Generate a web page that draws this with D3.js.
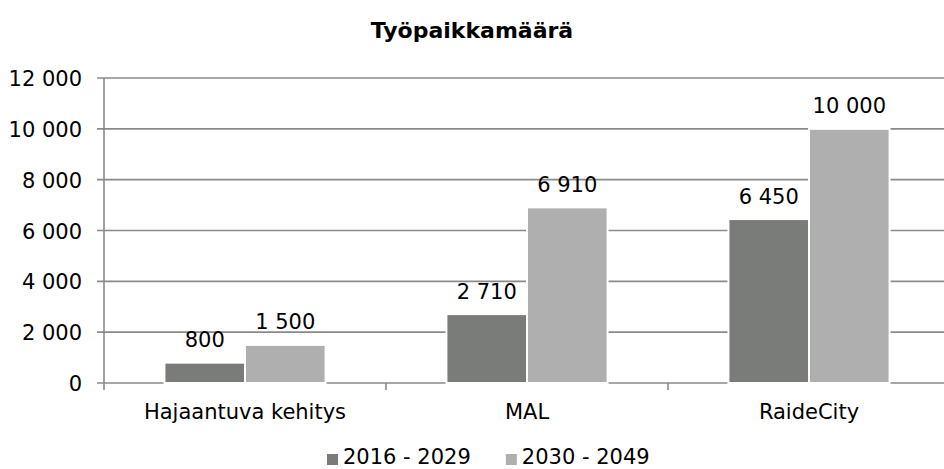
<!DOCTYPE html>
<html>
<head>
<meta charset="utf-8">
<script src="https://cdn.jsdelivr.net/npm/d3@7"></script>
<style>
  body { margin: 0; background: #fff; }
  svg { display: block; font-family: "DejaVu Sans", Verdana, sans-serif; }
</style>
</head>
<body>
<svg></svg>
<script>
const categories = ["Hajaantuva kehitys", "MAL", "RaideCity"]
const seriesNames = ["2016 - 2029", "2030 - 2049"]
const values2016 = [800, 2710, 6450]
const values2030 = [1500, 6910, 10000]
const yTicks = [0, 2000, 4000, 6000, 8000, 10000, 12000]
const colors = ["#7a7c7a", "#afafaf"]

const width = 944
const height = 469
const svg = d3.select('svg')
  .attr('width', width)
  .attr('height', height)

const fmt = v => d3.format(",")(v).replace(/,/g, "\u00a0")

const x = d3.scaleBand().domain(categories).range([104, 950])
const x1 = d3.scaleBand().domain(seriesNames).range([0, x.bandwidth()]).paddingOuter(0.75)
const y = d3.scaleLinear().domain([0, 12000]).range([383, 78])

const rows = categories.map((c, i) => ({ cat: c, vals: [values2016[i], values2030[i]] }))

// gridlines + y labels
svg.append("g").selectAll("line")
  .data(yTicks)
  .enter()
  .append("line")
  .attr("x1", 97).attr("x2", 950)
  .attr("y1", d => y(d)).attr("y2", d => y(d))
  .attr("stroke", "#8a8a8a")
  .attr("stroke-width", 1.6)

svg.append("g").selectAll("text")
  .data(yTicks)
  .enter()
  .append("text")
  .attr("x", 82)
  .attr("y", d => y(d) + 1)
  .attr("text-anchor", "end")
  .attr("dominant-baseline", "central")
  .attr("font-size", 21)
  .attr("fill", "#000")
  .text(fmt)

// y axis line and category ticks
svg.append("line")
  .attr("x1", 104).attr("x2", 104)
  .attr("y1", y(12000)).attr("y2", 390)
  .attr("stroke", "#8a8a8a").attr("stroke-width", 1.6)

svg.append("g").selectAll("line")
  .data(categories.slice(1))
  .enter()
  .append("line")
  .attr("x1", d => x(d)).attr("x2", d => x(d))
  .attr("y1", y(0)).attr("y2", 390)
  .attr("stroke", "#8a8a8a").attr("stroke-width", 1.6)

// bars
const groups = svg.append("g").selectAll("g")
  .data(rows)
  .enter()
  .append("g")
  .attr("transform", d => `translate(${x(d.cat)},0)`)

groups.selectAll("rect")
  .data(d => d.vals.map((v, i) => ({ s: seriesNames[i], v: v, i: i })))
  .enter()
  .append("rect")
  .attr("x", d => x1(d.s))
  .attr("width", x1.bandwidth())
  .attr("y", d => y(d.v))
  .attr("height", d => y(0) - y(d.v))
  .attr("fill", d => colors[d.i])
  .attr("stroke", "#fff")
  .attr("stroke-width", 2)

groups.selectAll("text")
  .data(d => d.vals.map((v, i) => ({ s: seriesNames[i], v: v })))
  .enter()
  .append("text")
  .attr("x", d => x1(d.s) + x1.bandwidth() / 2)
  .attr("y", d => y(d.v) - 15.5)
  .attr("text-anchor", "middle")
  .attr("font-size", 21)
  .attr("fill", "#000")
  .text(d => fmt(d.v))

// category labels
svg.append("g").selectAll("text")
  .data(categories)
  .enter()
  .append("text")
  .attr("x", d => x(d) + x.bandwidth() / 2)
  .attr("y", 419)
  .attr("text-anchor", "middle")
  .attr("font-size", 21)
  .attr("fill", "#000")
  .text(d => d)

// title
svg.append("text")
  .attr("x", width / 2)
  .attr("y", 38)
  .attr("text-anchor", "middle")
  .attr("font-size", 22)
  .attr("font-weight", "bold")
  .attr("fill", "#000")
  .text("Työpaikkamäärä")

// legend
const legend = svg.append("g")
let lx = 327
seriesNames.forEach((s, i) => {
  legend.append("rect")
    .attr("x", lx).attr("y", 454)
    .attr("width", 11).attr("height", 11)
    .attr("fill", colors[i])
  const t = legend.append("text")
    .attr("x", lx + 16).attr("y", 464)
    .attr("font-size", 21)
    .attr("fill", "#000")
    .text(s)
  lx += 16 + t.node().getComputedTextLength() + 35
})
</script>
</body>
</html>
